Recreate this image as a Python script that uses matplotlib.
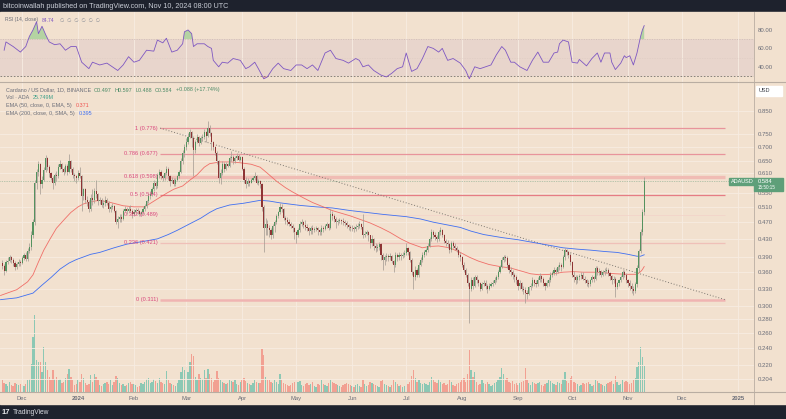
import numpy as np
import pandas as pd
import matplotlib
matplotlib.use("Agg")
import matplotlib.pyplot as plt
from matplotlib.patches import Rectangle
from matplotlib.lines import Line2D
from matplotlib.ticker import NullLocator

plt.rcParams['font.family'] = ['Liberation Sans', 'DejaVu Sans']

# ---- daily ADA/USD candles, 2023-11-20 .. 2024-11-10 (values in 1/1000 USD)
first_open = 378
closes = [
    372, 362, 381, 383, 390, 384, 378, 370, 376, 380, 379,  # nov 23
    389, 395, 387, 403, 412, 440, 470, 580, 615, 640, 575, 590, 620, 660, 630, 610,
    595, 580, 605, 600, 630, 640, 625, 615, 635, 615, 650, 625, 605, 600, 595,  # dec
    612, 600, 540, 560, 530, 522, 505, 535, 528, 555, 545, 525, 530, 515, 520, 530,
    520, 505, 510, 512, 500, 470, 478, 482, 478, 500, 505, 498, 505, 500, 490,  # jan
    495, 502, 498, 490, 495, 505, 512, 525, 540, 545, 560, 580, 570, 605, 615, 600,
    595, 610, 625, 600, 585, 590, 575, 590, 600, 615, 650, 680, 700,  # feb
    720, 740, 760, 735, 690, 720, 740, 715, 735, 740, 760, 745, 775, 755, 720, 700,
    680, 650, 595, 610, 640, 625, 640, 635, 660, 665, 650, 660, 670, 655, 665,  # mar
    625, 590, 575, 585, 580, 590, 595, 600, 580, 585, 575, 510, 455, 465, 455, 450,
    440, 460, 470, 485, 495, 510, 505, 480, 475, 470, 465, 460, 455, 445,  # apr
    440, 450, 465, 470, 462, 458, 455, 448, 455, 450, 452, 455, 450, 445, 455, 452,
    460, 465, 455, 490, 485, 478, 470, 472, 475, 472, 470, 468, 462, 458, 455,  # may
    455, 452, 458, 460, 465, 458, 440, 442, 445, 438, 420, 430, 415, 410, 412, 418,
    395, 385, 390, 392, 390, 392, 382, 375, 395, 390, 395, 392, 395, 398,  # jun
    410, 400, 385, 360, 350, 365, 355, 375, 385, 395, 400, 405, 415, 430, 445, 440,
    435, 430, 445, 450, 440, 425, 420, 418, 405, 420, 415, 410, 405, 395, 390,  # jul
    375, 365, 355, 340, 330, 345, 335, 350, 345, 340, 330, 338, 340, 335, 330, 335,
    338, 340, 345, 350, 360, 370, 385, 390, 388, 375, 365, 360, 355, 350, 345,  # aug
    335, 340, 330, 328, 322, 320, 332, 335, 345, 340, 338, 345, 352, 348, 340, 335,
    340, 345, 355, 358, 365, 360, 370, 375, 370, 390, 405, 400, 395, 380,  # sep
    355, 350, 345, 350, 352, 355, 348, 345, 340, 338, 345, 350, 348, 368, 360, 362,
    355, 360, 362, 365, 358, 352, 345, 348, 332, 340, 345, 350, 360, 355, 345,  # oct
    340, 335, 330, 325, 338, 368, 402, 446, 496, 584,  # nov
]
highs = [
    385, 376, 385, 390, 395, 392, 388, 382, 380, 386, 385,
    392, 398, 400, 410, 420, 448, 478, 590, 625, 650, 645, 600, 630, 672, 665, 638,
    615, 600, 612, 618, 640, 655, 645, 630, 642, 640, 675, 655, 630, 612, 605,
    620, 630, 605, 565, 565, 540, 530, 545, 560, 565, 590, 550, 538, 535, 528, 540,
    535, 525, 515, 520, 515, 502, 485, 490, 490, 505, 512, 510, 512, 515, 505,
    505, 508, 506, 502, 500, 510, 518, 530, 548, 555, 568, 590, 585, 612, 625, 620,
    605, 615, 635, 630, 605, 598, 595, 595, 605, 622, 660, 690, 712,
    735, 755, 772, 765, 745, 730, 752, 745, 742, 752, 772, 765, 805, 790, 760, 725,
    705, 685, 655, 625, 650, 648, 648, 645, 668, 685, 672, 668, 680, 675, 670,
    670, 630, 598, 595, 590, 595, 600, 615, 605, 592, 590, 580, 515, 480, 475, 462,
    456, 465, 475, 490, 500, 520, 518, 508, 485, 482, 478, 470, 465, 458,
    448, 455, 472, 478, 472, 475, 465, 458, 460, 462, 458, 460, 458, 452, 462, 460,
    465, 470, 468, 505, 498, 490, 482, 478, 480, 478, 480, 475, 472, 465, 462,
    462, 460, 465, 468, 472, 468, 490, 448, 450, 448, 440, 440, 432, 420, 418, 422,
    420, 398, 395, 398, 396, 398, 395, 385, 400, 398, 400, 398, 400, 405,
    420, 412, 402, 388, 362, 372, 368, 380, 390, 400, 405, 410, 420, 435, 452, 450,
    445, 440, 450, 458, 452, 442, 430, 428, 420, 425, 425, 420, 415, 408, 400,
    392, 380, 368, 358, 342, 350, 350, 355, 355, 348, 342, 342, 345, 345, 338, 340,
    342, 345, 350, 355, 365, 375, 390, 395, 395, 392, 378, 370, 365, 358, 355,
    348, 345, 342, 335, 332, 328, 335, 340, 350, 348, 345, 350, 358, 355, 350, 342,
    345, 350, 360, 362, 370, 368, 375, 380, 378, 395, 410, 408, 402, 398,
    382, 362, 355, 355, 356, 360, 360, 352, 348, 345, 348, 355, 352, 372, 372, 368,
    365, 365, 368, 370, 368, 360, 355, 352, 350, 342, 348, 355, 365, 365, 358,
    348, 345, 340, 335, 342, 375, 408, 452, 505, 597,
]
lows = [
    366, 355, 360, 376, 380, 378, 372, 365, 366, 372, 372,
    376, 384, 382, 383, 398, 405, 432, 462, 560, 600, 545, 565, 585, 615, 620, 598,
    588, 560, 572, 585, 595, 625, 615, 605, 610, 605, 610, 615, 595, 585, 580,
    590, 595, 500, 530, 520, 512, 495, 500, 515, 520, 535, 515, 518, 510, 508, 512,
    515, 495, 495, 505, 495, 465, 455, 470, 470, 475, 495, 492, 495, 495, 480,
    485, 490, 490, 485, 485, 492, 500, 508, 520, 532, 540, 555, 560, 565, 595, 592,
    585, 590, 605, 590, 570, 578, 570, 570, 585, 595, 610, 640, 665,
    690, 712, 735, 700, 600, 680, 715, 705, 712, 728, 732, 720, 740, 742, 690, 690,
    672, 640, 580, 575, 605, 615, 620, 630, 632, 650, 640, 645, 655, 650, 650,
    620, 580, 565, 570, 570, 578, 585, 590, 575, 572, 565, 500, 400, 440, 440, 435,
    430, 432, 445, 465, 480, 490, 495, 475, 465, 462, 460, 455, 445, 430,
    420, 435, 445, 460, 455, 450, 448, 440, 442, 442, 445, 448, 440, 438, 440, 445,
    450, 455, 450, 452, 475, 470, 455, 462, 468, 465, 462, 460, 455, 450, 448,
    448, 445, 448, 452, 455, 452, 432, 435, 438, 425, 410, 415, 405, 400, 402, 405,
    385, 365, 375, 382, 382, 385, 378, 360, 370, 382, 385, 385, 388, 390,
    395, 395, 380, 355, 330, 345, 350, 350, 372, 380, 390, 395, 400, 412, 425, 432,
    428, 422, 425, 440, 435, 420, 415, 410, 398, 400, 410, 405, 400, 390, 382,
    370, 360, 350, 335, 275, 325, 330, 332, 340, 335, 325, 328, 334, 330, 322, 328,
    332, 334, 338, 342, 348, 358, 368, 380, 382, 368, 358, 352, 348, 342, 338,
    328, 330, 325, 320, 305, 312, 318, 328, 332, 335, 332, 335, 342, 342, 335, 328,
    332, 335, 342, 350, 355, 355, 358, 365, 362, 368, 385, 395, 388, 375,
    350, 342, 338, 340, 345, 348, 345, 340, 335, 332, 335, 342, 342, 345, 355, 355,
    350, 352, 355, 358, 352, 345, 338, 340, 316, 330, 335, 342, 348, 350, 340,
    332, 328, 322, 318, 322, 332, 360, 398, 440, 488,
]
# volume, millions of ADA
volumes = [
    12, 9, 8, 6, 10, 7, 6, 9, 8, 7, 8,
    7, 6, 8, 12, 13, 28, 55, 77, 32, 30, 30, 20, 45, 30, 22, 15,
    12, 22, 13, 15, 12, 13, 9, 10, 14, 18, 23, 15, 12, 7, 8,
    12, 10, 18, 14, 9, 7, 8, 17, 10, 18, 15, 12, 7, 6, 8, 9,
    10, 8, 12, 7, 10, 16, 14, 9, 7, 8, 6, 7, 9, 10, 8,
    8, 7, 5, 6, 9, 8, 10, 13, 14, 9, 10, 13, 11, 9, 14, 10,
    9, 8, 21, 12, 9, 8, 7, 6, 9, 12, 20, 25, 22,
    25, 20, 30, 38, 36, 15, 12, 18, 14, 13, 22, 14, 23, 18, 14, 10,
    12, 21, 14, 12, 10, 9, 8, 9, 12, 11, 10, 12, 8, 7, 10,
    12, 14, 11, 9, 8, 7, 9, 12, 10, 9, 9, 43, 37, 15, 12, 12,
    10, 9, 12, 10, 8, 18, 12, 9, 8, 7, 6, 7, 9, 10,
    12, 10, 11, 7, 6, 8, 9, 7, 8, 10, 6, 5, 8, 7, 12, 8,
    7, 6, 9, 12, 10, 9, 8, 7, 6, 5, 7, 8, 9, 8, 7,
    6, 5, 7, 8, 6, 5, 12, 8, 6, 7, 10, 9, 8, 7, 6, 5,
    11, 12, 8, 7, 6, 5, 7, 12, 10, 8, 6, 7, 5, 6,
    12, 8, 10, 16, 22, 14, 10, 12, 9, 8, 9, 8, 7, 10, 15, 12,
    10, 9, 13, 10, 8, 9, 7, 8, 12, 10, 7, 6, 8, 9, 10,
    12, 14, 10, 18, 42, 22, 15, 20, 10, 7, 8, 12, 9, 8, 10, 8,
    6, 7, 9, 10, 12, 15, 24, 18, 12, 14, 10, 9, 11, 8, 9,
    7, 9, 10, 11, 24, 12, 9, 7, 10, 9, 8, 9, 10, 7, 6, 8,
    9, 12, 11, 9, 8, 7, 10, 9, 8, 13, 20, 11, 9, 14,
    16, 10, 9, 8, 6, 7, 9, 8, 9, 10, 8, 6, 7, 12, 11, 9,
    8, 7, 6, 8, 9, 10, 11, 8, 16, 10, 7, 8, 12, 10, 11,
    10, 8, 9, 12, 14, 25, 30, 45, 35, 26,
]

# indicator readings: (days from 2024-01-01, value)
ema50_pts = [(-43, 0.318), (-34, 0.328), (-28, 0.342), (-25, 0.355), (-22, 0.38), (-19, 0.405),
             (-15.5, 0.43), (-12, 0.455), (-7, 0.48), (-4, 0.495), (0, 0.51), (3, 0.518),
             (8, 0.525), (12, 0.528), (18, 0.522), (25, 0.513), (31, 0.51), (37, 0.51),
             (44, 0.532), (49, 0.548), (53, 0.56), (58, 0.57), (62, 0.588), (66, 0.605),
             (70, 0.63), (73, 0.642), (79, 0.648), (85, 0.648), (90, 0.645), (96, 0.64),
             (101, 0.63), (105, 0.61), (110, 0.585), (115, 0.565), (119, 0.552), (125, 0.535),
             (130, 0.522), (136, 0.51), (141, 0.50), (151, 0.486), (162, 0.468), (168, 0.456),
             (173, 0.445), (179, 0.43), (184, 0.42), (191, 0.41), (195, 0.413), (200, 0.414),
             (206, 0.41), (212, 0.40), (217, 0.39), (222, 0.382), (228, 0.375), (234, 0.371),
             (240, 0.368), (246, 0.362), (251, 0.357), (256, 0.355), (262, 0.356), (269, 0.36),
             (275, 0.361), (280, 0.36), (286, 0.36), (291, 0.359), (298, 0.357), (304, 0.356),
             (310, 0.356), (312, 0.361), (313, 0.365), (314, 0.371)]
sma200_pts = [(-43, 0.311), (-34, 0.314), (-25, 0.322), (-20, 0.336), (-15, 0.35), (-10, 0.366),
              (-5, 0.378), (-1, 0.385), (7, 0.396), (12, 0.40), (20, 0.41), (27, 0.418),
              (36, 0.424), (44, 0.43), (50, 0.44), (55, 0.45), (62, 0.466), (68, 0.48),
              (73, 0.495), (77, 0.505), (84, 0.515), (92, 0.52), (101, 0.528), (106, 0.526),
              (112, 0.521), (123, 0.514), (132, 0.51), (141, 0.507), (151, 0.50), (160, 0.495),
              (169, 0.49), (182, 0.484), (190, 0.478), (197, 0.47), (205, 0.463), (212, 0.457),
              (218, 0.448), (225, 0.44), (235, 0.433), (244, 0.428), (255, 0.42), (262, 0.415),
              (269, 0.41), (277, 0.407), (284, 0.405), (292, 0.402), (299, 0.40), (305, 0.396),
              (310, 0.392), (312, 0.392), (314, 0.395)]
rsi_pts = [(-41, 58), (-40, 67), (-36, 62), (-32, 56), (-29, 62), (-27, 73), (-25, 80), (-23, 89),
           (-22, 76), (-20, 84), (-18, 75), (-16, 67), (-13, 64), (-10, 65), (-7, 58), (-4, 62),
           (-1, 62), (2, 45), (6, 38), (8, 45), (12, 42), (16, 44), (19, 40), (22, 36), (25, 42),
           (28, 51), (31, 45), (34, 47), (38, 58), (42, 57), (44, 69), (47, 66), (49, 71), (52, 56),
           (55, 58), (58, 65), (59, 78), (61, 80), (63, 76), (64, 62), (66, 65), (69, 65), (70, 65),
           (72, 62), (74, 60), (75, 47), (78, 40), (80, 45), (83, 44), (86, 49), (90, 47), (93, 38),
           (95, 40), (98, 45), (100, 38), (103, 27), (105, 29), (108, 38), (111, 44), (114, 38),
           (118, 36), (121, 42), (124, 42), (127, 38), (130, 42), (133, 36), (137, 55), (140, 58),
           (143, 49), (147, 47), (150, 44), (154, 49), (156, 47), (158, 40), (161, 42), (164, 36),
           (168, 31), (171, 29), (174, 33), (177, 38), (180, 40), (182, 55), (185, 35), (188, 38),
           (191, 49), (194, 62), (197, 60), (200, 56), (202, 60), (205, 47), (208, 49), (212, 44),
           (215, 36), (217, 27), (220, 40), (223, 38), (226, 40), (229, 42), (232, 53), (235, 62),
           (237, 58), (240, 45), (242, 45), (245, 40), (249, 36), (252, 47), (255, 56), (258, 45),
           (261, 45), (264, 55), (266, 56), (267, 65), (269, 69), (272, 67), (274, 45), (277, 44),
           (278, 48), (282, 41), (285, 49), (288, 55), (290, 45), (292, 55), (295, 55), (296, 45),
           (298, 37), (301, 44), (303, 52), (304, 50), (306, 52), (308, 42), (310, 55), (312, 73),
           (313, 80), (314, 84.74)]

fib_levels = [1, 0.786, 0.618, 0.5, 0.382, 0.236, 0]
fib_prices = [0.776, 0.677, 0.598, 0.544, 0.489, 0.421, 0.311]
price_ticks = [0.850, 0.750, 0.700, 0.650, 0.610, 0.550, 0.510, 0.470, 0.430, 0.390,
               0.360, 0.330, 0.300, 0.280, 0.260, 0.240, 0.220, 0.204]

# ---- derived arrays
c = np.array(closes) / 1000
o = np.concatenate([[first_open / 1000], c[:-1]])
hi = np.maximum(np.array(highs) / 1000, np.maximum(o, c))
lo = np.minimum(np.array(lows) / 1000, np.minimum(o, c))
vol = np.array(volumes, dtype=float)
jan1 = pd.Timestamp("2024-01-01")
dates = pd.date_range("2023-11-20", periods=len(c), freq="D")
day = (dates - jan1).days.values
up = c >= o

months = pd.date_range("2023-12-01", "2025-01-01", freq="MS")
month_days = (months - jan1).days.values
month_labels = [m.strftime("%b") if m.month != 1 else str(m.year) for m in months]

W, H = 786, 419
BG = "#f2e1cf"
BAND = "#e8d5cc"
GRID = "#f7ece2"
TXT = "#6a6d78"
SEP = "#b9ada2"


def fx(x):
    return x / W


def fy(y):
    return 1 - y / H


fig = plt.figure(figsize=(W / 100, H / 100), dpi=100, facecolor="#1e222d")
fig.patches.append(Rectangle((0, fy(404)), 1, (404 - 12) / H, transform=fig.transFigure,
                             color=BG, zorder=-10))

XL = (-43.3, 374.9)

# ---- RSI panel
ax_rsi = fig.add_axes([0, fy(82), fx(754), (82 - 12) / H])
ax_rsi.patch.set_visible(False)
ax_rsi.set_xlim(*XL)
ax_rsi.set_ylim(23.5, 99.5)
ax_rsi.axhspan(30, 70, color=BAND, zorder=0, lw=0)
for m in month_days:
    ax_rsi.axvline(m, color=GRID, lw=0.6, zorder=0.5)
ax_rsi.axhline(70, color="#cbb9b0", lw=0.5, ls=(0, (1.5, 2)))
ax_rsi.axhline(50, color="#d6c4bb", lw=0.4, ls=(0, (1, 2)))
ax_rsi.axhline(30, color="#77736f", lw=0.6, ls=(0, (2, 2)))
rd = np.array([p[0] for p in rsi_pts], dtype=float)
rv = np.array([p[1] for p in rsi_pts], dtype=float)
ax_rsi.fill_between(rd, rv, 70, where=rv > 70, interpolate=True, color="#a9d19a", alpha=0.85, lw=0)
ax_rsi.fill_between(rd, rv, 30, where=rv < 30, interpolate=True, color="#f0a8a0", alpha=0.8, lw=0)
ax_rsi.plot(rd, rv, color="#7e57c2", lw=0.6)
ax_rsi.set_xticks([])
ax_rsi.yaxis.tick_right()
ax_rsi.set_yticks([40, 60, 80], ["40.00", "60.00", "80.00"])
ax_rsi.tick_params(axis="y", length=0, pad=3, labelsize=4.3, labelcolor=TXT)
for s in ax_rsi.spines.values():
    s.set_visible(False)

# ---- volume (behind the candles)
ax_vol = fig.add_axes([0, fy(392), fx(754), (392 - 82) / H])
ax_vol.patch.set_visible(False)
ax_vol.bar(day, vol, width=0.75, color=np.where(up, "#8cc8b4", "#f2a092"), lw=0)
ax_vol.set_ylim(0, 310)
ax_vol.set_xlim(*XL)
ax_vol.axis("off")

# ---- main price panel
ax = fig.add_axes([0, fy(392), fx(754), (392 - 82) / H])
ax.patch.set_visible(False)
ax.set_yscale("log")
ax.set_xlim(*XL)
ax.set_ylim(0.1901, 0.9921)
for t in price_ticks:
    ax.axhline(t, color=GRID, lw=0.6, zorder=0)
for m in month_days:
    ax.axvline(m, color=GRID, lw=0.6, zorder=0)

# fib retracement
x0f, x1f = 45.5, 358.8
fib_style = {1: ("#e8949b", 0.9), 0.786: ("#e8949b", 0.9), 0.618: ("#f0bcb4", 2.4),
             0.5: ("#e67c85", 0.9), 0.382: ("#f2d2c8", 0.5), 0.236: ("#efc0b8", 0.9),
             0: ("#f0b4b2", 1.8)}
for lv, pr in zip(fib_levels, fib_prices):
    col, lw = fib_style[lv]
    ax.plot([x0f, x1f], [pr, pr], color=col, lw=lw, zorder=1, solid_capstyle="butt")
    lab = "%g (%.3f)" % (lv, pr)
    ax.text(x0f - 1.2, pr, lab, ha="right", va="center", fontsize=4.1, color="#d9467c", zorder=6)
ax.plot([x0f, x1f], [fib_prices[0], fib_prices[-1]], color="#7c7770", lw=0.7,
        ls=(0, (1, 2)), zorder=2)

# moving averages
ax.plot([p[0] for p in sma200_pts], [p[1] for p in sma200_pts], color="#3f6ff2", lw=0.6, zorder=3)
ax.plot([p[0] for p in ema50_pts], [p[1] for p in ema50_pts], color="#f0625d", lw=0.6,
        alpha=0.9, zorder=3)

# candles
ax.vlines(day, lo, hi, color="#a89f96", lw=0.55, zorder=4)
body_h = np.maximum(np.abs(c - o), 0.0015)
ax.bar(day, body_h, bottom=np.minimum(o, c), width=0.62,
       color=np.where(up, "#55925f", "#8e3434"), lw=0, zorder=5)

# last price line
ax.axhline(c[-1], color="#7fa88a", lw=0.5, ls=(0, (1, 1.5)), zorder=2)

ax.yaxis.tick_right()
ax.set_yticks(price_ticks, ["%.3f" % t for t in price_ticks])
ax.yaxis.set_minor_locator(NullLocator())
ax.tick_params(axis="y", length=0, pad=3, labelsize=4.3, labelcolor=TXT)
ax.set_xticks(month_days, month_labels)
ax.tick_params(axis="x", length=0, pad=3, labelsize=4.2, labelcolor=TXT)
for lab in ax.get_xticklabels():
    if lab.get_text().isdigit():
        lab.set_fontweight("bold")
for s in ax.spines.values():
    s.set_visible(False)

# ---- frame lines
def fig_line(xs, ys, **kw):
    fig.add_artist(Line2D([fx(v) for v in xs], [fy(v) for v in ys], transform=fig.transFigure, **kw))

fig_line([0, 786], [82, 82], color=SEP, lw=0.8)
fig_line([0, 786], [392, 392], color=SEP, lw=0.8)
fig_line([754, 754], [12, 404], color=SEP, lw=0.6)

# ---- header / footer
fig.text(fx(3), fy(6), "bitcoinwallah published on TradingView.com, Nov 10, 2024 08:00 UTC",
         color="#c9cdd6", fontsize=5.2, va="center")
fig.text(fx(2), fy(412), "17", color="#e8e9ec", fontsize=5.5, fontweight="bold", va="center")
fig.text(fx(12.5), fy(412), "TradingView", color="#d8dae0", fontsize=4.8, va="center")

# ---- legends, segments laid out one after another
renderer = fig.canvas.get_renderer()


def chain(x, y, parts, fs=3.9):
    for s, col, gap in parts:
        t = fig.text(fx(x), fy(y), s, color=col, fontsize=fs, va="center", zorder=6)
        x = t.get_window_extent(renderer).x1 + gap


GV = "#4a8a66"
chain(5, 20, [("RSI (14, close)", TXT, 4), ("84.74", "#7e57c2", 5),
              ("\u2205  \u2205  \u2205  \u2205  \u2205  \u2205", "#8a8d96", 0)], fs=3.6)
chain(6, 90, [("Cardano / US Dollar, 1D, BINANCE", TXT, 3), ("O0.497", GV, 3),
              ("H0.597", GV, 3), ("L0.488", GV, 3), ("C0.584", GV, 3),
              ("+0.088 (+17.74%)", GV, 0)])
chain(6, 97.5, [("Vol \u00b7 ADA", TXT, 4), ("25.749M", "#3fa08a", 0)])
chain(6, 105.3, [("EMA (50, close, 0, EMA, 5)", TXT, 4), ("0.371", "#ef5350", 0)])
chain(6, 113.3, [("EMA (200, close, 0, SMA, 5)", TXT, 4), ("0.395", "#3f6ff2", 0)])

# USD box
fig.patches.append(Rectangle((fx(756), fy(96)), fx(26), 10 / H, transform=fig.transFigure,
                             color="white", zorder=5))
fig.text(fx(759), fy(91), "USD", color="#3a3d46", fontsize=4, va="center", zorder=6)

# last price labels
GREEN = "#5e9f79"
fig.patches.append(Rectangle((fx(729), fy(185)), fx(25), 7 / H, transform=fig.transFigure,
                             color=GREEN, zorder=5))
fig.patches.append(Rectangle((fx(754), fy(191)), fx(29), 13 / H, transform=fig.transFigure,
                             color=GREEN, zorder=5))
fig.text(fx(730.5), fy(181.5), "ADAUSD", color="white", fontsize=4, va="center", zorder=6)
fig.text(fx(758), fy(181.5), "0.584", color="white", fontsize=4.2, va="center", zorder=6)
fig.text(fx(758), fy(187.5), "15:50:15", color="white", fontsize=3.3, va="center", zorder=6)

fig.savefig("out.png", dpi=100, facecolor=fig.get_facecolor())
